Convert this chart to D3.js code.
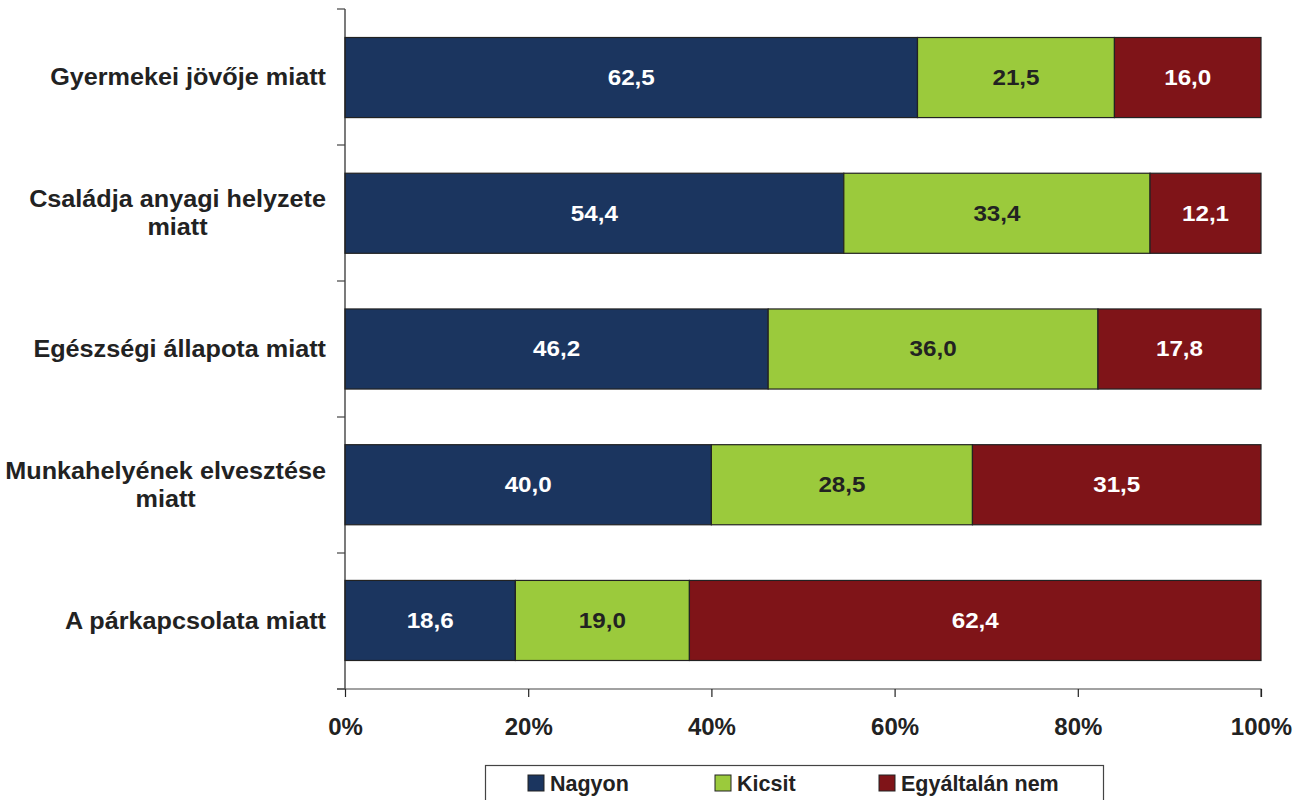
<!DOCTYPE html>
<html><head><meta charset="utf-8">
<script src="https://cdn.jsdelivr.net/npm/d3@7"></script>
<style>
body{margin:0;background:#fff;}
text{font-family:"Liberation Sans",Arial,sans-serif;font-weight:bold;}
</style></head>
<body><svg id="c" width="1304" height="800"></svg>
<script>
const categories = [
  ["Gyermekei jövője miatt"],
  ["Családja anyagi helyzete", "miatt"],
  ["Egészségi állapota miatt"],
  ["Munkahelyének elvesztése", "miatt"],
  ["A párkapcsolata miatt"]
];
const seriesNames = ["Nagyon", "Kicsit", "Egyáltalán nem"];
const nagyon = [62.5, 54.4, 46.2, 40.0, 18.6];
const kicsit = [21.5, 33.4, 36.0, 28.5, 19.0];
const egyaltalan = [16.0, 12.1, 17.8, 31.5, 62.4];
const xTicks = [0, 20, 40, 60, 80, 100];
const colors = ["#1b355f", "#9bca3c", "#7f1418"];
const labelColors = ["#ffffff", "#222222", "#ffffff"];

const svg = d3.select("#c");
const L = 345, R = 1261, T = 9, B = 689;
const x = d3.scaleLinear().domain([0, 100]).range([L, R]);
const y = d3.scaleBand().domain(d3.range(categories.length)).range([T, B]).paddingInner(0.41).paddingOuter(0.21);
const yb = d3.scaleBand().domain(d3.range(categories.length)).range([T, B]);

const rows = categories.map((c, i) => {
  const vals = [nagyon[i], kicsit[i], egyaltalan[i]];
  const tot = d3.sum(vals);
  let acc = 0;
  return vals.map((v, k) => { const s = acc; acc += v; return {i, k, v, x0: s / tot * 100, x1: acc / tot * 100}; });
});

const g = svg.append("g");
rows.forEach(r => {
  g.selectAll(null).data(r).enter().append("rect")
    .attr("x", d => x(d.x0)).attr("width", d => x(d.x1) - x(d.x0))
    .attr("y", d => y(d.i)).attr("height", y.bandwidth())
    .attr("fill", d => colors[d.k]).attr("stroke", "#222").attr("stroke-width", 1.2);
  g.selectAll(null).data(r).enter().append("text")
    .attr("transform", d => `translate(${(x(d.x0) + x(d.x1)) / 2},${y(d.i) + y.bandwidth() / 2}) scale(1.1,1)`)
    .attr("dy", "0.34em").attr("text-anchor", "middle")
    .attr("font-size", 22).attr("fill", d => labelColors[d.k])
    .text(d => d.v.toFixed(1).replace(".", ","));
});

// y axis
const axisColor = "#444";
svg.append("line").attr("x1", L).attr("x2", L).attr("y1", T).attr("y2", B).attr("stroke", "#222").attr("stroke-width", 1.2);
const yTickPos = d3.range(categories.length).map(i => yb(i)).concat([B]);
svg.selectAll(null).data(yTickPos).enter().append("line")
  .attr("x1", L - 8).attr("x2", L).attr("y1", d => d).attr("y2", d => d).attr("stroke", axisColor).attr("stroke-width", 1.2);

// x axis
const xa = svg.append("g").attr("transform", `translate(0,${B})`)
  .call(d3.axisBottom(x).tickValues(xTicks).tickSize(8).tickFormat(d => d + "%"));
xa.select(".domain").attr("d", `M${L - 8},0H${R}V8`).attr("stroke", axisColor).attr("stroke-width", 1.2);
xa.selectAll(".tick line").attr("stroke", "#222").attr("stroke-width", 1.2);
xa.selectAll(".tick text").attr("font-size", 24).attr("fill", "#222").attr("y", 46).attr("dy", "0")
  .attr("font-family", "Liberation Sans, Arial, sans-serif").attr("font-weight", "bold");

// category labels
const labelRight = 326;
const sx = 1.05;
categories.forEach((lines, i) => {
  const cy = yb(i) + yb.bandwidth() / 2;
  const t = svg.append("text").attr("font-size", 24).attr("fill", "#222").attr("text-anchor", "middle");
  const lh = 28;
  lines.forEach((ln, j) => {
    t.append("tspan").attr("x", 0).attr("y", cy + (j - (lines.length - 1) / 2) * lh).attr("dy", "0.32em").text(ln);
  });
  const w = t.node().getBBox().width * sx;
  t.attr("transform", `translate(${labelRight - w / 2},0) scale(${sx},1)`);
});

// legend
svg.append("rect").attr("x", 485.5).attr("y", 765.5).attr("width", 618).attr("height", 50)
  .attr("fill", "#fff").attr("stroke", "#444").attr("stroke-width", 1.2);
const legX = [528, 715, 879];
seriesNames.forEach((n, k) => {
  svg.append("rect").attr("x", legX[k]).attr("y", 775).attr("width", 16).attr("height", 16)
    .attr("fill", colors[k]).attr("stroke", "#222").attr("stroke-width", 1);
  svg.append("text").attr("x", legX[k] + 22).attr("y", 791)
    .attr("font-size", 21.5).attr("fill", "#222").text(n);
});
</script></body></html>
